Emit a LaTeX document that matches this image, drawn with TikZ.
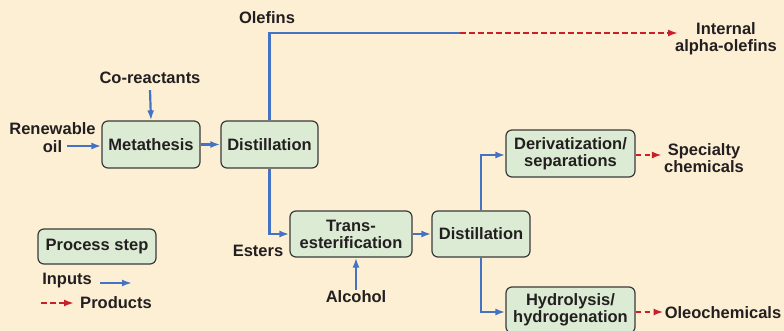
\documentclass[tikz,border=0pt]{standalone}
\usepackage{fontspec}
\setmainfont{Liberation Sans}
\usetikzlibrary{arrows.meta}
\definecolor{bg}{HTML}{FDEFD4}
\definecolor{boxfill}{HTML}{DCEBD4}
\definecolor{boxdraw}{HTML}{3A3A3A}
\definecolor{inblue}{HTML}{4472C4}
\definecolor{outred}{HTML}{C8202A}
\definecolor{txt}{HTML}{231F20}
\begin{document}
\begin{tikzpicture}[x=1pt,y=-1pt,
  stepbox/.style={draw=boxdraw, fill=boxfill, rounded corners=6pt, line width=1.2pt,
    align=center, inner sep=0pt, text=txt,
    font=\bfseries\fontsize{16.5}{17}\selectfont},
  lbl/.style={font=\bfseries\fontsize{16.5}{17}\selectfont, text=txt, align=center, inner sep=0pt},
  inline/.style={draw=inblue, line width=2.2pt},
  inarrow/.style={inline, -{Latex[length=10pt,width=7pt]}},
  outarrow/.style={draw=outred, line width=2.2pt, dash pattern=on 5.5pt off 3.5pt,
    -{Latex[length=10pt,width=7pt]}}
]
\fill[bg] (0,0) rectangle (784,331);
\useasboundingbox (0,0) rectangle (784,331);

% process boxes
\node[stepbox, minimum width=98pt, minimum height=47pt] (meta) at (151,144.5) {Metathesis};
\node[stepbox, minimum width=97pt, minimum height=47pt] (dist1) at (269.5,144.5) {Distillation};
\node[stepbox, minimum width=122pt, minimum height=46pt] (trans) at (351,234) {Trans-\\esterification};
\node[stepbox, minimum width=98pt, minimum height=46pt] (dist2) at (481,234) {Distillation};
\node[stepbox, minimum width=129pt, minimum height=47pt] (deriv) at (570.5,153.5) {Derivatization/\\separations};
\node[stepbox, minimum width=129pt, minimum height=46pt] (hydro) at (570.5,310) {Hydrolysis/\\hydrogenation};
\node[stepbox, minimum width=118pt, minimum height=35pt] (legbox) at (97,246.5) {Process step};

% labels
\node[lbl] (olef) at (267,18) {Olefins};
\node[lbl] (co) at (150,78) {Co-reactants};
\node[lbl] (renew) at (52.5,129) {Renewable};
\node[lbl] (oil) at (52.5,147) {oil};
\node[lbl] (iao) at (726,39) {Internal\\alpha-olefins};
\node[lbl] (spec) at (704,158) {Specialty\\chemicals};
\node[lbl] (oleo) at (723,313) {Oleochemicals};
\node[lbl] (est) at (258,251) {Esters};
\node[lbl] (alc) at (356,297) {Alcohol};
\node[lbl] (inp) at (67,281) {Inputs};
\node[lbl] (prod) at (116,303) {Products};

% coordinates
\coordinate (oilS) at (67,146);
\coordinate (oleJ) at (460,33);
\coordinate (iaoT) at (678,33);
\coordinate (inpS) at (100,283);
\coordinate (inpE) at (132,283);
\coordinate (prodS) at (41,303);

% connectors
\draw[inarrow] (oilS) -- (oilS -| meta.west);
\draw[inarrow] ([yshift=-6pt]co.south) -- (meta.north);
\draw[inarrow] (meta.east) -- (dist1.west);
\draw[inline] (dist1.north) |- (oleJ);
\draw[outarrow] (oleJ) -- (iaoT);
\draw[inarrow] (dist1.south) |- (trans.west);
\draw[inarrow] ([yshift=1pt]alc.north) -- (alc.north |- trans.south);
\draw[inarrow] (trans.east) -- (dist2.west);
\draw[inarrow] (dist2.north) |- ([yshift=-1.5pt]deriv.west);
\draw[inarrow] (dist2.south) |- ([yshift=-2pt]hydro.west);
\draw[outarrow, shorten >=2pt] ([yshift=-1.5pt]deriv.east) -- ([yshift=-1.5pt]deriv.east -| spec.west);
\draw[outarrow, shorten >=1pt] ([yshift=-2pt]hydro.east) -- ([yshift=-2pt]hydro.east -| oleo.west);

% legend
\draw[inarrow] (inpS) -- (inpE);
\draw[outarrow, shorten >=6pt] (prodS) -- (prodS -| prod.west);
\end{tikzpicture}
\end{document}
